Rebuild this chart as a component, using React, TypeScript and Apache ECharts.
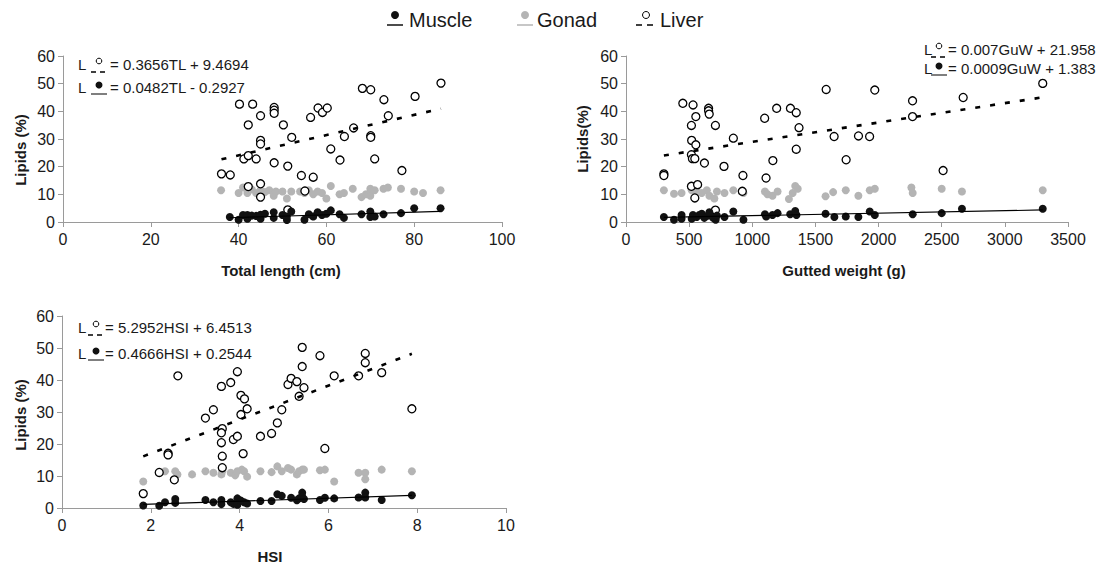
import React, { useEffect, useRef } from "react";
import * as echarts from "echarts";

const FONT = 'Arial, "Liberation Sans", Helvetica, sans-serif';

// ---------- legend ----------
const legendNames = ["Muscle", "Gonad", "Liver"];

// ---------- panel 1 : total length ----------
const tlAxis = { min: 0, max: 100, interval: 20, title: "Total length (cm)" };
const tlLiver: [number, number][] = [
  [36.1, 17.4], [38.1, 17.0], [40.2, 42.6], [41.2, 22.8], [42.2, 24.0], [42.2, 35.1], [42.2, 12.8],
  [43.2, 42.6], [44.0, 22.8], [45.0, 38.4], [45.0, 29.5], [45.0, 28.2], [45.0, 13.8], [45.0, 9.0],
  [48.1, 41.4], [48.1, 40.4], [48.1, 39.3], [48.1, 21.4], [50.2, 35.1], [51.2, 20.2], [52.1, 30.6],
  [51.2, 4.4], [54.3, 16.8], [55.1, 11.2], [56.4, 37.8], [57.0, 16.2], [58.1, 41.2], [59.1, 39.6],
  [60.2, 41.2], [61.0, 26.4], [63.1, 22.4], [64.1, 30.9], [66.2, 34.0], [68.2, 48.3], [70.1, 47.8],
  [70.1, 31.2], [70.1, 30.6], [71.0, 22.8], [73.1, 44.2], [74.1, 38.4], [77.2, 18.6], [80.2, 45.4],
  [86.1, 50.2],
];
const tlGonad: [number, number][] = [
  [36, 11.5], [40, 10.5], [41, 12.5], [42, 10.5], [43, 11.8], [44, 10.5], [45, 11.5], [46, 10.8],
  [47, 11.5], [48, 9.5], [48.5, 11], [50, 11], [51, 8.5], [52, 11], [54, 11], [55, 10.5], [56, 11.5],
  [57, 10], [58, 11], [59, 10.5], [60, 8.5], [61, 13], [63, 10], [64, 10.5], [66, 12], [68, 9],
  [69, 10], [70, 12], [70, 9.5], [71, 11.5], [73, 12], [74, 12.5], [77, 12], [80, 11], [82, 10.5],
  [86, 11.5],
];
const tlMuscle: [number, number][] = [
  [38, 1.8], [40, 0.8], [41, 2.5], [42, 1.2], [42, 2.5], [43, 2.3], [44, 2.2], [45, 1.2], [45, 2.6],
  [46, 3], [48, 1.5], [48, 3.5], [50, 2.5], [51, 0.7], [51, 2], [52, 3.8], [55, 0.8], [56, 2.8],
  [57, 2], [58, 3.5], [59, 2.5], [60, 3], [61, 4.2], [63, 2.8], [64, 1.5], [68, 2.8], [70, 1.8],
  [70, 3.8], [71, 2], [73, 2.8], [77, 3.2], [80, 5], [86, 5],
];
const tlLiverFit = [0.3656, 9.4694];
const tlMuscleFit = [0.0482, -0.2927];
const tlEquations = ["= 0.3656TL + 9.4694", "= 0.0482TL - 0.2927"];

// ---------- panel 2 : gutted weight ----------
const gwAxis = { min: 0, max: 3500, interval: 500, title: "Gutted weight (g)" };
const gwLiver: [number, number][] = [
  [300, 17.4], [300, 16.8], [450, 42.9], [518, 34.9], [518, 24.3], [526, 22.9], [518, 12.9],
  [531, 42.3], [553, 38.1], [520, 29.5], [553, 27.9], [545, 22.9], [567, 13.5], [545, 8.7],
  [621, 21.3], [654, 41.1], [654, 40.2], [659, 39.0], [708, 34.9], [708, 4.3], [776, 20.1],
  [850, 30.3], [926, 16.8], [921, 11.1], [1098, 37.5], [1109, 15.9], [1163, 22.2], [1193, 41.1],
  [1302, 41.1], [1348, 39.5], [1370, 34.1], [1348, 26.3], [1585, 47.9], [1648, 30.9], [1743, 22.5],
  [1841, 31.1], [1929, 30.9], [1970, 47.7], [2269, 43.8], [2269, 38.1], [2511, 18.6], [2670, 45.0],
  [3300, 50.1],
];
const gwGonad: [number, number][] = [
  [300, 11.5], [380, 10.2], [440, 10.5], [520, 11.5], [560, 11], [600, 10.5], [640, 11.5],
  [660, 9.5], [700, 8.5], [720, 11], [780, 10.5], [850, 11.5], [930, 10.5], [1100, 11],
  [1120, 10], [1160, 9.5], [1200, 11], [1290, 8.3], [1320, 10.5], [1340, 13], [1360, 12],
  [1580, 9.3], [1640, 10.8], [1740, 11.5], [1840, 9.5], [1930, 11.5], [1970, 12], [2260, 12.5],
  [2270, 10.5], [2500, 12], [2660, 11], [3300, 11.5],
];
const gwMuscle: [number, number][] = [
  [300, 1.8], [380, 0.8], [440, 1.2], [440, 2.5], [520, 1.2], [530, 2.5], [560, 1.8], [580, 2.5],
  [600, 3], [620, 1.5], [650, 2.3], [660, 3.5], [690, 1.5], [710, 0.8], [720, 2.3], [780, 1.8],
  [850, 3.8], [930, 0.8], [1100, 2.8], [1110, 2], [1160, 2.5], [1200, 3.2], [1300, 2.8],
  [1340, 4], [1350, 2.5], [1580, 3], [1650, 1.8], [1740, 2], [1840, 1.8], [1930, 3.8],
  [1970, 2.5], [2270, 2.8], [2500, 3.2], [2660, 4.8], [3300, 4.8],
];
const gwLiverFit = [0.007, 21.958];
const gwMuscleFit = [0.0009, 1.383];
const gwEquations = ["= 0.007GuW + 21.958", "= 0.0009GuW + 1.383"];

// ---------- panel 3 : HSI ----------
const hsiAxis = { min: 0, max: 10, interval: 2, title: "HSI" };
const hsiLiver: [number, number][] = [
  [1.83, 4.5], [2.39, 17.1], [2.39, 16.6], [2.19, 11.1], [2.53, 8.8], [2.61, 41.3], [3.23, 28.1],
  [3.41, 30.7], [3.59, 38.0], [3.61, 24.8], [3.59, 23.5], [3.59, 20.4], [3.61, 16.2], [3.61, 12.6],
  [3.80, 39.2], [3.86, 21.4], [3.95, 22.4], [3.95, 42.6], [4.03, 35.2], [4.11, 34.1], [4.03, 29.2],
  [4.17, 31.0], [4.08, 17.0], [4.47, 22.4], [4.72, 23.3], [4.85, 26.6], [4.95, 30.7], [5.09, 38.6],
  [5.16, 40.5], [5.29, 39.5], [5.34, 34.9], [5.41, 44.2], [5.41, 50.2], [5.45, 37.6], [5.81, 47.6],
  [5.92, 18.6], [6.13, 41.3], [6.68, 41.3], [6.83, 48.3], [6.83, 45.4], [7.20, 42.3], [7.88, 31.0],
];
const hsiGonad: [number, number][] = [
  [1.83, 8.3], [2.19, 11], [2.32, 11.5], [2.55, 11.5], [2.6, 10.5], [2.93, 10.5], [3.23, 11.5],
  [3.41, 11], [3.59, 10.5], [3.61, 11.5], [3.8, 11], [3.9, 10.2], [3.95, 11.5], [4.05, 12],
  [4.1, 11.5], [4.17, 9.8], [4.47, 11.5], [4.72, 11.2], [4.85, 13], [4.95, 11.5], [5.09, 12.5],
  [5.16, 12], [5.29, 10.5], [5.34, 11.5], [5.41, 12], [5.45, 12], [5.81, 11.8], [5.92, 12],
  [6.13, 8.3], [6.68, 11], [6.83, 11], [6.83, 9], [7.2, 12], [7.88, 11.5],
];
const hsiMuscle: [number, number][] = [
  [1.83, 0.8], [2.19, 0.7], [2.32, 1.8], [2.55, 1.6], [2.55, 2.8], [3.23, 2.5], [3.41, 1.8],
  [3.59, 1.2], [3.59, 2.5], [3.8, 1.8], [3.86, 1.3], [3.95, 3.0], [3.95, 1.0], [4.03, 2.3],
  [4.1, 1.8], [4.17, 1.4], [4.47, 2.2], [4.72, 2.2], [4.85, 4.3], [4.95, 3.8], [5.16, 3.2],
  [5.29, 2.4], [5.34, 3.0], [5.41, 4.8], [5.41, 3.5], [5.45, 2.8], [5.81, 2.5], [5.92, 3.2],
  [6.13, 3.0], [6.68, 3.3], [6.83, 4.8], [6.83, 3.3], [7.2, 2.5], [7.88, 4.0],
];
const hsiLiverFit = [5.2952, 6.4513];
const hsiMuscleFit = [0.4666, 0.2544];
const hsiEquations = ["= 5.2952HSI + 6.4513", "= 0.4666HSI + 0.2544"];

const yAxisRange = { min: 0, max: 60, interval: 10 };
const yTitles = ["Lipids (%)", "Lipids(%)", "Lipids (%)"];

// ---------- styling / layout ----------
const MUSCLE = "#111111";
const GONAD = "#b4b4b4";
const AXIS = "#9a9a9a";
const TEXT = "#1a1a1a";

const grids = [
  { left: 63, top: 56, width: 439, height: 166 },
  { left: 626, top: 56, width: 442, height: 166 },
  { left: 62, top: 316, width: 444, height: 192 },
];

function fitLine(coef: number[], pts: [number, number][]) {
  const xs = pts.map((p) => p[0]);
  const lo = Math.min(...xs);
  const hi = Math.max(...xs);
  return [
    [lo, coef[0] * lo + coef[1]],
    [hi, coef[0] * hi + coef[1]],
  ];
}

function txt(x: number, y: number, text: string, size: number, opts: any = {}) {
  return {
    type: "text",
    x,
    y,
    rotation: opts.rotation || 0,
    silent: true,
    style: {
      text,
      fill: opts.fill || TEXT,
      font: `${opts.bold ? "bold " : ""}${size}px ${FONT}`,
      textAlign: opts.align || "left",
      textVerticalAlign: "middle",
      align: opts.align || "left",
      verticalAlign: "middle",
    },
  };
}

function liverIcon(cx: number, cy: number, r: number, lineY: number, half: number, dash: number[]) {
  return [
    { type: "circle", silent: true, shape: { cx, cy, r }, style: { fill: "#fff", stroke: "#000", lineWidth: 1 } },
    {
      type: "line",
      silent: true,
      shape: { x1: cx - half, y1: lineY, x2: cx + half, y2: lineY },
      style: { stroke: "#000", lineWidth: 1.5, lineDash: dash },
    },
  ];
}

function dotIcon(cx: number, cy: number, r: number, lineY: number, half: number, color: string, lineColor: string) {
  return [
    { type: "circle", silent: true, shape: { cx, cy, r }, style: { fill: color } },
    {
      type: "line",
      silent: true,
      shape: { x1: cx - half, y1: lineY, x2: cx + half, y2: lineY },
      style: { stroke: lineColor, lineWidth: 1.5 },
    },
  ];
}

function equationBlock(lx: number, y1: number, y2: number, eq: string[], iconX: number, textX: number) {
  return [
    txt(lx, y1, "L", 15),
    ...liverIcon(iconX, y1 - 3, 2.8, y1 + 8, 8, [5, 4]),
    txt(textX, y1, eq[0], 15),
    txt(lx, y2, "L", 15),
    ...dotIcon(iconX, y2 - 2, 3.5, y2 + 7, 8, MUSCLE, "#555"),
    txt(textX, y2, eq[1], 15),
  ];
}

export default function App() {
  const ref = useRef<HTMLDivElement>(null);

  useEffect(() => {
    if (!ref.current) return;
    const chart = echarts.init(ref.current, undefined, { renderer: "svg" });

    const xDefs = [tlAxis, gwAxis, hsiAxis];
    const panelData = [
      { liver: tlLiver, gonad: tlGonad, muscle: tlMuscle, lf: tlLiverFit, mf: tlMuscleFit },
      { liver: gwLiver, gonad: gwGonad, muscle: gwMuscle, lf: gwLiverFit, mf: gwMuscleFit },
      { liver: hsiLiver, gonad: hsiGonad, muscle: hsiMuscle, lf: hsiLiverFit, mf: hsiMuscleFit },
    ];

    const axisCommon = {
      axisLine: { show: true, lineStyle: { color: AXIS, width: 1 } },
      axisTick: { show: true, inside: false, length: 5, lineStyle: { color: AXIS } },
      splitLine: { show: false },
    };
    const plain = (v: number) => String(v);

    const xAxis = xDefs.map((d, i) => ({
      type: "value",
      gridIndex: i,
      min: d.min,
      max: d.max,
      interval: d.interval,
      ...axisCommon,
      axisLabel: { color: TEXT, fontSize: 16, fontFamily: FONT, margin: 9, formatter: plain },
    }));
    const yAxis = xDefs.map((_, i) => ({
      type: "value",
      gridIndex: i,
      min: yAxisRange.min,
      max: yAxisRange.max,
      interval: yAxisRange.interval,
      ...axisCommon,
      axisLabel: { color: TEXT, fontSize: 16, fontFamily: FONT, margin: 8, formatter: plain },
    }));

    const series: any[] = [];
    panelData.forEach((p, i) => {
      series.push({
        type: "scatter",
        name: legendNames[1],
        xAxisIndex: i,
        yAxisIndex: i,
        data: p.gonad,
        symbol: "circle",
        symbolSize: 8,
        itemStyle: { color: GONAD, opacity: 1 },
      });
      series.push({
        type: "scatter",
        name: legendNames[2],
        xAxisIndex: i,
        yAxisIndex: i,
        data: p.liver,
        symbol: "circle",
        symbolSize: 8,
        itemStyle: { color: "#ffffff", borderColor: "#000", borderWidth: 1.3, opacity: 1 },
      });
      series.push({
        type: "scatter",
        name: legendNames[0],
        xAxisIndex: i,
        yAxisIndex: i,
        data: p.muscle,
        symbol: "circle",
        symbolSize: 8,
        itemStyle: { color: MUSCLE, opacity: 1 },
      });
      series.push({
        type: "line",
        xAxisIndex: i,
        yAxisIndex: i,
        data: fitLine(p.lf, p.liver),
        symbol: "none",
        lineStyle: { color: "#000", width: 2.6, type: [5, 10] },
        silent: true,
        z: 3,
      });
      series.push({
        type: "line",
        xAxisIndex: i,
        yAxisIndex: i,
        data: fitLine(p.mf, p.muscle),
        symbol: "none",
        lineStyle: { color: "#000", width: 1.2 },
        silent: true,
        z: 3,
      });
    });

    const graphic: any[] = [
      // legend
      ...dotIcon(395, 15, 4, 25, 8, MUSCLE, MUSCLE),
      txt(409, 20, legendNames[0], 20),
      ...dotIcon(525, 15, 4, 25, 8, GONAD, GONAD),
      txt(537, 20, legendNames[1], 20),
      ...liverIcon(646, 15, 3.5, 25, 10, [6, 5]),
      txt(660, 20, legendNames[2], 20),
      // equations
      ...equationBlock(78, 64, 87, tlEquations, 99, 110),
      ...equationBlock(924, 49, 68, gwEquations, 939, 948),
      ...equationBlock(78, 327, 353, hsiEquations, 96, 105),
      // axis titles
      txt(20, 150, yTitles[0], 15, { bold: true, align: "center", rotation: Math.PI / 2 }),
      txt(582, 139, yTitles[1], 15, { bold: true, align: "center", rotation: Math.PI / 2 }),
      txt(20, 415, yTitles[2], 15, { bold: true, align: "center", rotation: Math.PI / 2 }),
      txt(281, 270, tlAxis.title, 15, { bold: true, align: "center" }),
      txt(844, 270, gwAxis.title, 15, { bold: true, align: "center" }),
      txt(270, 556, hsiAxis.title, 15, { bold: true, align: "center" }),
    ];

    chart.setOption({
      animation: false,
      backgroundColor: "#ffffff",
      textStyle: { fontFamily: FONT },
      grid: grids.map((g) => ({ ...g, containLabel: false })),
      xAxis,
      yAxis,
      series,
      graphic,
    });

    return () => chart.dispose();
  }, []);

  return (
    <div
      ref={ref}
      style={{ position: "fixed", left: 0, top: 0, width: 1107, height: 566, background: "#fff" }}
    />
  );
}
